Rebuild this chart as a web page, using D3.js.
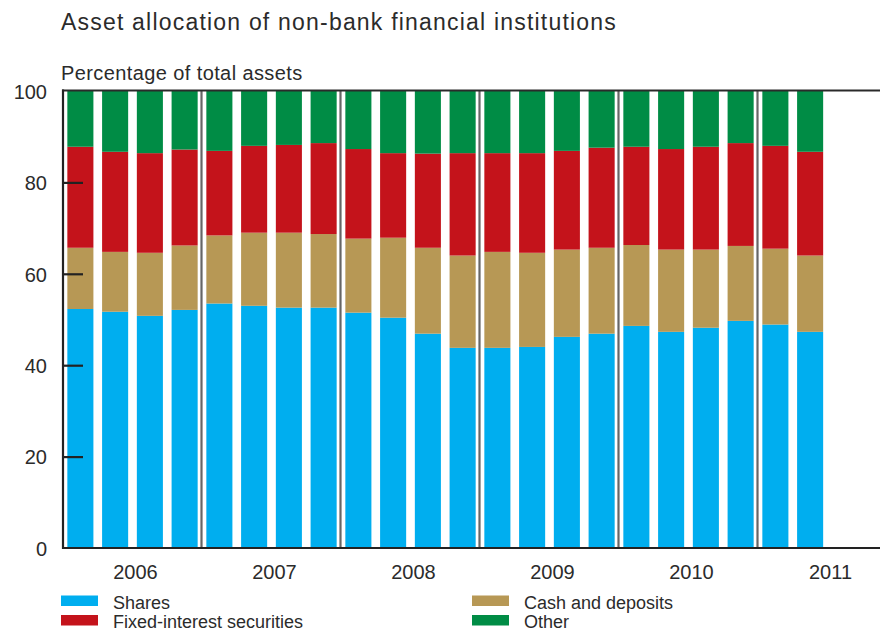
<!DOCTYPE html>
<html>
<head>
<meta charset="utf-8">
<script src="https://cdn.jsdelivr.net/npm/d3@7"></script>
<style>
  html, body { margin: 0; padding: 0; background: #fff; }
  svg { display: block; font-family: "Liberation Sans", Arial, sans-serif; }
</style>
</head>
<body>
<svg id="chart" width="880" height="632"></svg>
<script>
// ---- data ----
const years = ["2006", "2007", "2008", "2009", "2010", "2011"];
const quarters = years.flatMap(y => ["Q1", "Q2", "Q3", "Q4"].map(q => y + q));
const seriesNames = ["Shares", "Cash and deposits", "Fixed-interest securities", "Other"];
const shares = [52.3, 51.7, 50.8, 52.1, 53.5, 53.0, 52.6, 52.6, 51.5, 50.4, 46.9, 43.8, 43.8, 44.0, 46.2, 46.9, 48.6, 47.3, 48.2, 49.7, 48.9, 47.3];
const cashDeposits = [13.4, 13.1, 13.8, 14.1, 14.9, 16.0, 16.4, 16.1, 16.2, 17.5, 18.8, 20.2, 21.0, 20.6, 19.1, 18.8, 17.7, 18.0, 17.1, 16.4, 16.6, 16.7];
const fixedInterest = [22.1, 21.9, 21.8, 21.0, 18.5, 19.0, 19.2, 19.9, 19.6, 18.5, 20.6, 22.4, 21.6, 21.8, 21.6, 21.9, 21.5, 22.0, 22.5, 22.5, 22.5, 22.7];
const other = [12.2, 13.3, 13.6, 12.8, 13.1, 12.0, 11.8, 11.4, 12.7, 13.6, 13.7, 13.6, 13.6, 13.6, 13.1, 12.4, 12.2, 12.7, 12.2, 11.4, 12.0, 13.3];
const yTicks = [0, 20, 40, 60, 80, 100];

// ---- styles ----
const colors = {
  "Shares": "#00aeef",
  "Cash and deposits": "#b79855",
  "Fixed-interest securities": "#c4131b",
  "Other": "#008c45"
};
const textColor = "#2b2b2b";

const svg = d3.select("#chart");
const pLeft = 63, pRight = 897, pTop = 91, pBottom = 548;

const table = shares.map((s, i) => ({
  quarter: quarters[i],
  "Shares": s,
  "Cash and deposits": cashDeposits[i],
  "Fixed-interest securities": fixedInterest[i],
  "Other": other[i]
}));

const x = d3.scaleBand().domain(quarters).range([pLeft, pRight]).paddingInner(0.25).paddingOuter(0.125);
const xYear = d3.scaleBand().domain(years).range([pLeft, pRight]);
const y = d3.scaleLinear().domain([0, 100]).range([pBottom, pTop]);

const stacked = d3.stack().keys(seriesNames)(table);

// bars
svg.append("g").selectAll("g")
  .data(stacked).join("g")
  .attr("fill", d => colors[d.key])
  .selectAll("rect")
  .data(d => d).join("rect")
  .attr("x", d => x(d.data.quarter))
  .attr("width", x.bandwidth())
  .attr("y", d => y(d[1]))
  .attr("height", d => y(d[0]) - y(d[1]));

// year separators
svg.append("g").selectAll("line")
  .data(years.slice(1)).join("line")
  .attr("x1", d => xYear(d) - 0.5).attr("x2", d => xYear(d) - 0.5)
  .attr("y1", pTop).attr("y2", pBottom)
  .attr("stroke", "#666").attr("stroke-width", 2.2);

// frame: top line
svg.append("line")
  .attr("x1", pLeft - 1).attr("x2", 880)
  .attr("y1", pTop - 0.5).attr("y2", pTop - 0.5)
  .attr("stroke", "#2a2a2a").attr("stroke-width", 2);

// y axis
const yAxis = d3.axisRight(y).tickValues(yTicks).tickSize(20).tickFormat(d3.format("d"));
const gy = svg.append("g").attr("transform", `translate(${pLeft},0)`).call(yAxis);
gy.select(".domain").remove();
gy.selectAll(".tick line").attr("stroke", "#222").attr("stroke-width", 2.2)
  .style("display", (d) => (d === 0 || d === 100) ? "none" : null);
gy.selectAll(".tick text")
  .attr("x", -16).attr("dy", "0.36em")
  .attr("text-anchor", "end")
  .attr("fill", textColor)
  .style("font-size", "20px");
svg.append("line")
  .attr("x1", pLeft).attr("x2", pLeft).attr("y1", pTop - 1.5).attr("y2", pBottom + 1)
  .attr("stroke", "#222").attr("stroke-width", 2.2);

// x axis
svg.append("line")
  .attr("x1", pLeft - 1).attr("x2", 880).attr("y1", pBottom).attr("y2", pBottom)
  .attr("stroke", "#222").attr("stroke-width", 2.2);
const xAxis = d3.axisBottom(xYear).tickSize(0).tickPadding(0);
const gx = svg.append("g").attr("transform", `translate(0,${pBottom})`).call(xAxis);
gx.select(".domain").remove();
gx.selectAll(".tick text")
  .attr("y", 31).attr("dy", 0).attr("dx", 3)
  .attr("fill", textColor)
  .style("font-size", "20px");

// titles
svg.append("text").attr("x", 61).attr("y", 29.5)
  .attr("fill", textColor).style("font-size", "23px").style("letter-spacing", "1.2px")
  .text("Asset allocation of non-bank financial institutions");
svg.append("text").attr("x", 61).attr("y", 80)
  .attr("fill", textColor).style("font-size", "20px").style("letter-spacing", "0.4px")
  .text("Percentage of total assets");

// legend
const legendPos = [
  { name: "Shares", x: 61, y: 595.5 },
  { name: "Cash and deposits", x: 472, y: 595.5 },
  { name: "Fixed-interest securities", x: 61, y: 615 },
  { name: "Other", x: 472, y: 615 }
];
const lg = svg.append("g").selectAll("g").data(legendPos).join("g")
  .attr("transform", d => `translate(${d.x},${d.y})`);
lg.append("rect").attr("width", 37).attr("height", 10.5).attr("fill", d => colors[d.name]);
lg.append("text").attr("x", 52).attr("y", 13)
  .attr("fill", textColor).style("font-size", "18px")
  .text(d => d.name);
</script>
</body>
</html>
